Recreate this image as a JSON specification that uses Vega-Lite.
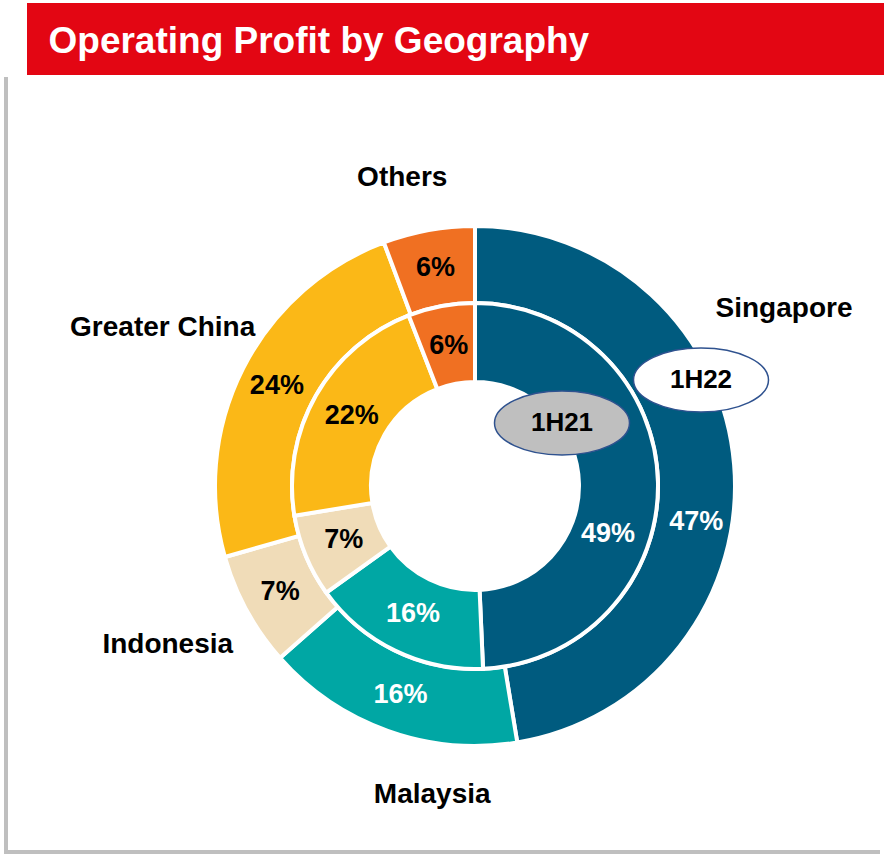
{
  "$schema": "https://vega.github.io/schema/vega-lite/v6.json",
  "padding": {"left": 4, "top": 3, "right": 0, "bottom": 0},
  "background": "white",
  "config": {
    "view": {"stroke": null},
    "font": "Liberation Sans",
    "text": {"font": "Liberation Sans", "fontWeight": "bold"}
  },
  "datasets": {
    "title": [{"title": "Operating Profit by Geography"}],
    "periods": [{"period": "1H21"}, {"period": "1H22"}],
    "shares": [
      {"period": "1H22", "region": "Singapore", "rank": 1, "share": 0.474},
      {"period": "1H22", "region": "Malaysia", "rank": 2, "share": 0.161},
      {"period": "1H22", "region": "Indonesia", "rank": 3, "share": 0.071},
      {"period": "1H22", "region": "Greater China", "rank": 4, "share": 0.237},
      {"period": "1H22", "region": "Others", "rank": 5, "share": 0.057},
      {"period": "1H21", "region": "Singapore", "rank": 1, "share": 0.493},
      {"period": "1H21", "region": "Malaysia", "rank": 2, "share": 0.158},
      {"period": "1H21", "region": "Indonesia", "rank": 3, "share": 0.073},
      {"period": "1H21", "region": "Greater China", "rank": 4, "share": 0.217},
      {"period": "1H21", "region": "Others", "rank": 5, "share": 0.059}
    ]
  },
  "spacing": 0,
  "vconcat": [
    {
      "spacing": 20,
      "hconcat": [
        {
          "width": 1,
          "height": 72,
          "data": {"name": "title"},
          "mark": {"type": "text"},
          "encoding": {}
        },
        {
          "width": 857,
          "height": 72,
          "view": {"fill": "#E30613", "stroke": null},
          "data": {"name": "title"},
          "mark": {"type": "text", "align": "left", "baseline": "alphabetic", "dx": -407, "dy": 14, "fontSize": 37, "fontWeight": "bold", "color": "white"},
          "encoding": {"text": {"field": "title", "type": "nominal"}}
        }
      ]
    },
    {
      "width": 874,
      "height": 775,
      "view": {"stroke": "#BFBFBF", "strokeWidth": 4, "strokeDash": [0, 1649, 1649, 0], "fill": null},
      "layer": [
        {
          "data": {"name": "shares"},
          "transform": [{"filter": "datum.period === '1H22'"}],
          "encoding": {
            "theta": {"field": "share", "type": "quantitative", "stack": true},
            "order": {"field": "rank", "type": "quantitative"},
            "detail": {"field": "region", "type": "nominal"}
          },
          "layer": [
            {
              "mark": {"type": "arc", "radius": 260, "radius2": 183, "stroke": "white", "strokeWidth": 4, "xOffset": 32, "yOffset": 21.5},
              "encoding": {
                "color": {"field": "region", "type": "nominal", "legend": null,
                  "scale": {"domain": ["Singapore", "Malaysia", "Indonesia", "Greater China", "Others"],
                            "range": ["#005B7F", "#00A7A4", "#F0DCB8", "#FBB817", "#F07022"]}}
              }
            },
            {
              "mark": {"type": "text", "radius": 222, "xOffset": 32, "yOffset": 21.5, "fontSize": 27, "fontWeight": "bold", "baseline": "middle", "align": "center"},
              "encoding": {
                "text": {"condition": {"test": "datum.region !== 'Singapore'", "field": "share", "type": "quantitative", "format": ".0%"}, "value": ""},
                "color": {"condition": {"test": "datum.region === 'Malaysia'", "value": "white"}, "value": "black"}
              }
            },
            {
              "mark": {"type": "text", "radius": 222, "xOffset": 32, "yOffset": 21.5, "dy": 54, "fontSize": 27, "fontWeight": "bold", "baseline": "middle", "align": "center", "color": "white"},
              "encoding": {
                "text": {"condition": {"test": "datum.region === 'Singapore'", "field": "share", "type": "quantitative", "format": ".0%"}, "value": ""}
              }
            },
            {
              "mark": {"type": "text", "radius": 350, "xOffset": 32, "yOffset": 21.5, "fontSize": 28, "fontWeight": "bold", "baseline": "middle", "align": "center", "color": "black"},
              "encoding": {
                "text": {"condition": {"test": "datum.region === 'Greater China'", "field": "region", "type": "nominal"}, "value": ""}
              }
            },
            {
              "mark": {"type": "text", "radius": 350, "xOffset": 32, "yOffset": 21.5, "dy": -9, "fontSize": 28, "fontWeight": "bold", "baseline": "middle", "align": "center", "color": "black"},
              "encoding": {
                "text": {"condition": {"test": "datum.region === 'Indonesia'", "field": "region", "type": "nominal"}, "value": ""}
              }
            },
            {
              "mark": {"type": "text", "radius": 313, "xOffset": 32, "yOffset": 21.5, "dx": -17, "fontSize": 28, "fontWeight": "bold", "baseline": "middle", "align": "center", "color": "black"},
              "encoding": {
                "text": {"condition": {"test": "datum.region === 'Others'", "field": "region", "type": "nominal"}, "value": ""}
              }
            },
            {
              "mark": {"type": "text", "radius": 312, "xOffset": 32, "yOffset": 21.5, "dx": 62, "dy": 15, "fontSize": 28, "fontWeight": "bold", "baseline": "middle", "align": "center", "color": "black"},
              "encoding": {
                "text": {"condition": {"test": "datum.region === 'Malaysia'", "field": "region", "type": "nominal"}, "value": ""}
              }
            }
          ]
        },
        {
          "data": {"name": "shares"},
          "transform": [{"filter": "datum.period === '1H22' && datum.region === 'Singapore'"}],
          "mark": {"type": "text", "xOffset": 341, "yOffset": -155.5, "fontSize": 28, "fontWeight": "bold", "baseline": "middle", "align": "center", "color": "black"},
          "encoding": {"text": {"field": "region", "type": "nominal"}}
        },
        {
          "data": {"name": "shares"},
          "transform": [{"filter": "datum.period === '1H21'"}],
          "encoding": {
            "theta": {"field": "share", "type": "quantitative", "stack": true},
            "order": {"field": "rank", "type": "quantitative"},
            "detail": {"field": "region", "type": "nominal"}
          },
          "layer": [
            {
              "mark": {"type": "arc", "radius": 183, "radius2": 104, "stroke": "white", "strokeWidth": 4, "xOffset": 32, "yOffset": 21.5},
              "encoding": {
                "color": {"field": "region", "type": "nominal", "legend": null}
              }
            },
            {
              "mark": {"type": "text", "radius": 142, "xOffset": 32, "yOffset": 21.5, "fontSize": 27, "fontWeight": "bold", "baseline": "middle", "align": "center"},
              "encoding": {
                "text": {"condition": {"test": "datum.region !== 'Singapore'", "field": "share", "type": "quantitative", "format": ".0%"}, "value": ""},
                "color": {"condition": {"test": "datum.region === 'Malaysia'", "value": "white"}, "value": "black"}
              }
            },
            {
              "mark": {"type": "text", "radius": 142, "xOffset": 32, "yOffset": 21.5, "dx": -9, "dy": 51, "fontSize": 27, "fontWeight": "bold", "baseline": "middle", "align": "center", "color": "white"},
              "encoding": {
                "text": {"condition": {"test": "datum.region === 'Singapore'", "field": "share", "type": "quantitative", "format": ".0%"}, "value": ""}
              }
            }
          ]
        },
        {
          "data": {"name": "periods"},
          "transform": [{"filter": "datum.period === '1H21'"}],
          "layer": [
            {
              "mark": {"type": "point", "filled": true, "shape": "M -1 0 C -1 -0.2618 -0.5523 -0.474 0 -0.474 C 0.5523 -0.474 1 -0.2618 1 0 C 1 0.2618 0.5523 0.474 0 0.474 C -0.5523 0.474 -1 0.2618 -1 0 Z", "size": 18225, "fill": "#BFBFBF", "stroke": "#2F528F", "strokeWidth": 1.5, "opacity": 1, "xOffset": 119, "yOffset": -41.5},
              "encoding": {}
            },
            {
              "mark": {"type": "text", "fontSize": 26, "fontWeight": "bold", "color": "black", "baseline": "middle", "align": "center", "xOffset": 119, "yOffset": -41.5},
              "encoding": {"text": {"field": "period", "type": "nominal"}}
            }
          ]
        },
        {
          "data": {"name": "periods"},
          "transform": [{"filter": "datum.period === '1H22'"}],
          "layer": [
            {
              "mark": {"type": "point", "filled": true, "shape": "M -1 0 C -1 -0.2618 -0.5523 -0.474 0 -0.474 C 0.5523 -0.474 1 -0.2618 1 0 C 1 0.2618 0.5523 0.474 0 0.474 C -0.5523 0.474 -1 0.2618 -1 0 Z", "size": 18225, "fill": "white", "stroke": "#2F528F", "strokeWidth": 1.5, "opacity": 1, "xOffset": 258, "yOffset": -84.5},
              "encoding": {}
            },
            {
              "mark": {"type": "text", "fontSize": 26, "fontWeight": "bold", "color": "black", "baseline": "middle", "align": "center", "xOffset": 258, "yOffset": -84.5},
              "encoding": {"text": {"field": "period", "type": "nominal"}}
            }
          ]
        }
      ]
    }
  ]
}
